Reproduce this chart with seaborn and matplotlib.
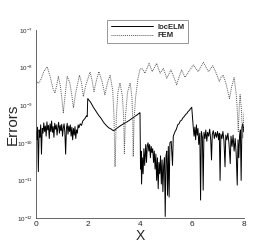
import numpy as np
import pandas as pd
import matplotlib
matplotlib.use("Agg")
import matplotlib.pyplot as plt
import seaborn as sns
from matplotlib.ticker import LogLocator, MultipleLocator, NullFormatter

# locELM errors (solid line)
loc_x = [0.00, 0.03, 0.06, 0.09, 0.12, 0.15, 0.18, 0.21, 0.24, 0.27, 0.30, 0.33, 0.36, 0.39,
         0.42, 0.45, 0.48, 0.51, 0.54, 0.57, 0.60, 0.63, 0.66, 0.69, 0.72, 0.75, 0.78, 0.81,
         0.84, 0.87, 0.90, 0.93, 0.96, 0.99, 1.02, 1.05, 1.08, 1.11, 1.14, 1.17, 1.20, 1.23,
         1.26, 1.29, 1.32, 1.35, 1.38, 1.41, 1.44, 1.47, 1.50, 1.53, 1.56, 1.59, 1.62, 1.65,
         1.70, 1.75, 1.80, 1.85, 1.90, 1.94, 1.97, 1.99, 2.10, 2.20, 2.30, 2.40, 2.50, 2.60,
         2.70, 2.80, 2.90, 2.97, 3.04, 3.10, 3.20, 3.30, 3.40, 3.50, 3.60, 3.70, 3.80, 3.90,
         3.98, 4.00, 4.02, 4.04, 4.06, 4.09, 4.12, 4.15, 4.18, 4.22, 4.25, 4.28, 4.31, 4.34,
         4.37, 4.40, 4.43, 4.46, 4.49, 4.52, 4.55, 4.58, 4.61, 4.64, 4.67, 4.70, 4.73, 4.76,
         4.79, 4.82, 4.85, 4.88, 4.91, 4.94, 4.97, 5.00, 5.03, 5.06, 5.09, 5.12, 5.15, 5.20,
         5.25, 5.28, 5.35, 5.40, 5.45, 5.50, 5.55, 5.60, 5.65, 5.70, 5.75, 5.80, 5.85, 5.90,
         5.95, 5.99, 6.02, 6.05, 6.08, 6.11, 6.14, 6.17, 6.20, 6.23, 6.26, 6.30, 6.33, 6.36,
         6.40, 6.43, 6.46, 6.50, 6.53, 6.57, 6.60, 6.64, 6.68, 6.72, 6.75, 6.78, 6.82, 6.86,
         6.90, 6.94, 6.98, 7.02, 7.05, 7.08, 7.11, 7.15, 7.19, 7.23, 7.27, 7.30, 7.34, 7.38,
         7.42, 7.47, 7.50, 7.54, 7.58, 7.62, 7.66, 7.70, 7.74, 7.77, 7.80, 7.83, 7.86, 7.89,
         7.92, 7.95, 7.98, 8.00]
loc_err = [2.0e-10, 1.2e-10, 2.6e-10, 1.7e-11, 2.2e-10, 1.4e-10, 3.0e-10, 5.0e-11, 2.4e-10,
           1.8e-10, 3.4e-10, 2.0e-10, 2.8e-10, 1.5e-10, 3.6e-10, 2.2e-10, 2.9e-10, 1.3e-10,
           3.2e-10, 2.0e-10, 3.8e-10, 1.9e-10, 2.7e-10, 1.4e-10, 3.3e-10, 2.3e-10, 3.0e-10,
           1.6e-10, 2.6e-10, 3.5e-10, 1.8e-10, 2.9e-10, 2.1e-10, 3.1e-10, 1.5e-10, 2.5e-10,
           3.2e-10, 1.9e-10, 5.0e-11, 2.4e-10, 3.3e-10, 1.7e-10, 2.8e-10, 2.0e-10, 3.0e-10,
           1.5e-10, 2.6e-10, 1.2e-10, 2.4e-10, 1.6e-10, 2.7e-10, 1.3e-10, 2.2e-10, 1.8e-10,
           3.0e-10, 2.5e-10, 3.2e-10, 2.9e-10, 3.8e-10, 4.2e-10, 4.6e-10, 5.2e-10, 5.0e-10,
           1.5e-9, 1.2e-9, 9.0e-10, 7.0e-10, 5.5e-10, 4.5e-10, 3.5e-10, 2.9e-10, 2.5e-10,
           2.3e-10, 2.1e-10, 2.2e-10, 2.4e-10, 2.7e-10, 3.0e-10, 3.3e-10, 3.6e-10, 4.0e-10,
           4.5e-10, 5.0e-10, 5.6e-10, 6.2e-10, 6.3e-10, 2.0e-11, 6.0e-11, 8.0e-12, 4.0e-11,
           1.5e-11, 7.0e-11, 2.5e-11, 9.0e-11, 3.0e-11, 8.5e-11, 1.0e-10, 6.0e-11, 9.0e-11,
           4.0e-11, 8.0e-11, 5.5e-11, 7.0e-11, 3.0e-11, 6.0e-11, 2.0e-11, 5.0e-11, 1.0e-11,
           4.0e-11, 6.0e-12, 3.0e-11, 1.5e-11, 4.5e-11, 8.0e-12, 3.5e-11, 5.0e-12, 2.5e-11,
           4.0e-11, 1.1e-12, 4.5e-11, 6.0e-11, 4.0e-12, 8.0e-11, 3.6e-12, 1.0e-10, 1.1e-10,
           2.5e-11, 1.5e-10, 2.0e-10, 2.3e-10, 3.0e-10, 3.2e-10, 3.8e-10, 4.0e-10, 4.6e-10,
           5.0e-10, 5.6e-10, 6.0e-10, 6.8e-10, 7.3e-10, 8.2e-10, 8.8e-10, 4.5e-10, 2.5e-10,
           1.5e-10, 2.6e-10, 1.2e-10, 3.0e-10, 1.6e-10, 2.4e-10, 9.0e-11, 1.8e-10, 3.0e-12,
           2.0e-10, 1.4e-10, 5.5e-12, 1.9e-10, 1.3e-10, 2.2e-10, 1.1e-10, 1.9e-10, 1.5e-10,
           2.3e-10, 1.2e-10, 3.5e-11, 1.7e-10, 2.1e-10, 1.3e-10, 1.9e-10, 1.4e-10, 2.0e-10,
           1.2e-10, 1.8e-10, 1.0e-11, 1.7e-10, 1.3e-10, 2.0e-10, 1.1e-10, 2.3e-11, 1.6e-10,
           1.2e-10, 1.8e-10, 1.0e-10, 2.8e-11, 1.5e-10, 8.0e-11, 1.6e-10, 6.0e-11, 1.3e-10,
           5.0e-11, 7.5e-12, 1.2e-10, 4.0e-11, 1.5e-10, 2.2e-10, 1.0e-11, 2.6e-10, 3.2e-10,
           2.0e-10, 2.8e-10]

# FEM errors (dotted line)
fem_x = [0.00, 0.10, 0.20, 0.30, 0.43, 0.55, 0.65, 0.73, 0.80, 0.86, 0.93, 1.00, 1.05, 1.10,
         1.20, 1.30, 1.38, 1.44, 1.52, 1.67, 1.75, 1.82, 1.92, 2.08, 2.16, 2.23, 2.32, 2.42,
         2.55, 2.65, 2.75, 2.85, 2.95, 3.00, 3.04, 3.09, 3.15, 3.23, 3.32, 3.37, 3.40, 3.44,
         3.52, 3.62, 3.69, 3.72, 3.74, 3.77, 3.83, 3.92, 4.00, 4.08, 4.19, 4.35, 4.47, 4.64,
         4.77, 4.90, 5.03, 5.19, 5.30, 5.41, 5.50, 5.60, 5.73, 5.88, 6.05, 6.24, 6.44, 6.63,
         6.80, 6.93, 7.05, 7.12, 7.20, 7.32, 7.44, 7.53, 7.62, 7.70, 7.74, 7.78, 7.82, 7.85,
         7.90, 7.95, 8.00]
fem_err = [4.5e-9, 3.8e-9, 5.0e-9, 7.9e-9, 1.05e-8, 5.6e-9, 2.8e-9, 2.1e-9, 3.5e-9, 5.8e-9,
           3.5e-9, 1.4e-9, 6.3e-10, 1.4e-9, 5.8e-9, 4.0e-9, 1.8e-9, 8.5e-10, 2.0e-9, 6.3e-9,
           4.0e-9, 1.7e-9, 3.5e-9, 7.6e-9, 4.5e-9, 2.3e-9, 4.5e-9, 7.8e-9, 4.0e-9, 1.9e-9,
           4.0e-9, 6.2e-9, 2.5e-9, 5.0e-10, 2.3e-11, 5.0e-10, 2.2e-9, 3.9e-9, 1.8e-9, 5.0e-10,
           5.2e-11, 5.0e-10, 2.2e-9, 3.9e-9, 1.6e-9, 4.0e-10, 4.3e-11, 4.0e-10, 1.6e-9, 5.0e-9,
           9.1e-9, 9.5e-9, 7.1e-9, 1.3e-8, 7.8e-9, 1.3e-8, 7.1e-9, 9.5e-9, 5.2e-9, 8.7e-9,
           5.6e-9, 3.5e-9, 5.6e-9, 8.7e-9, 5.5e-9, 7.9e-9, 1.17e-8, 7.8e-9, 1.38e-8, 7.8e-9,
           1.12e-8, 7.1e-9, 4.3e-9, 5.6e-9, 6.3e-9, 3.5e-9, 1.5e-9, 3.2e-9, 5.4e-9, 2.0e-9,
           7.9e-10, 2.0e-10, 1.0e-9, 1.9e-9, 7.9e-10, 1.35e-10, 6.3e-10]

loc_df = pd.DataFrame({"x": loc_x, "err": loc_err})
fem_df = pd.DataFrame({"x": fem_x, "err": fem_err})

sns.set_style("white")
plt.rcParams["font.family"] = ["Liberation Sans", "DejaVu Sans"]

fig = plt.figure(figsize=(2.77, 2.46), dpi=100)
ax = fig.add_axes([36 / 277, 1 - 218 / 246, 208 / 277, 188 / 246])

sns.lineplot(data=loc_df, x="x", y="err", ax=ax, color="black", linewidth=0.7,
             sort=False, estimator=None, label="locELM")
sns.lineplot(data=fem_df, x="x", y="err", ax=ax, color="0.35", linewidth=0.7,
             linestyle=(0, (1, 1)), sort=False, estimator=None, label="FEM")

ax.set_yscale("log")
ax.set_xlim(0, 8)
ax.set_ylim(1e-12, 1e-7)
ax.xaxis.set_major_locator(MultipleLocator(2))
ax.xaxis.set_minor_locator(MultipleLocator(0.5))
ax.yaxis.set_major_locator(LogLocator(base=10, numticks=10))
ax.yaxis.set_minor_locator(LogLocator(base=10, subs=np.arange(2, 10), numticks=20))
ax.yaxis.set_minor_formatter(NullFormatter())

ax.tick_params(which="both", direction="in", top=False, right=False, width=0.5, color="0.3")
ax.tick_params(which="major", length=3)
ax.tick_params(which="minor", length=1.5)
ax.tick_params(axis="x", labelsize=6, pad=2)
ax.tick_params(axis="y", labelsize=4.5, pad=2)

for s in ["top", "right"]:
    ax.spines[s].set_visible(False)
for s in ["left", "bottom"]:
    ax.spines[s].set_linewidth(0.6)
    ax.spines[s].set_color("0.3")

ax.set_xlabel("X", fontsize=10)
ax.set_ylabel("Errors", fontsize=11)
ax.xaxis.set_label_coords(0.5, -0.06)
ax.yaxis.set_label_coords(-0.08, 0.5)

leg = ax.legend(loc="upper left", bbox_to_anchor=(106.7 / 277, 1 - 20 / 246),
                bbox_transform=fig.transFigure, borderaxespad=0, fancybox=False,
                frameon=True, edgecolor="0.4", handlelength=5.5, handletextpad=0.6,
                labelspacing=0.1, borderpad=0.5, prop={"size": 5.5, "weight": "bold"})
leg.get_frame().set_linewidth(0.6)

fig.savefig("out.png", dpi=100)
